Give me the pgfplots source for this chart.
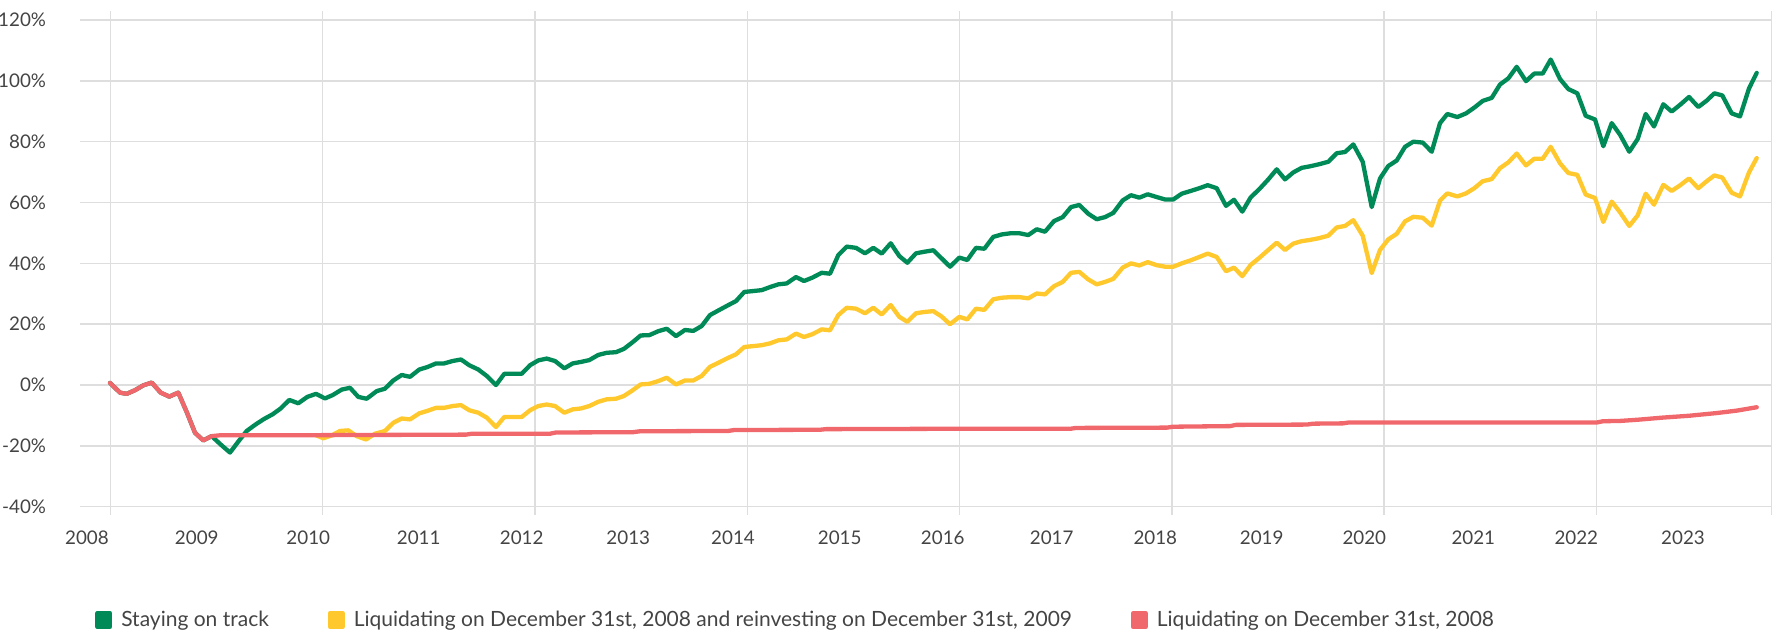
\documentclass[border=0pt]{standalone}
\usepackage{fontspec}
\setmainfont{Lato}
\usepackage{pgfplots}
\pgfplotsset{compat=1.18}
\definecolor{cgreen}{RGB}{0,138,88}
\definecolor{cyellow}{RGB}{255,200,44}
\definecolor{cred}{RGB}{240,104,108}
\definecolor{gridgray}{RGB}{222,222,222}
\definecolor{textgray}{RGB}{68,68,68}
\begin{document}
\begin{tikzpicture}
\begin{axis}[
  name=ax,
  x=0.5pt, y=1.521pt,
  xmin=80, xmax=1771.7, ymin=-40, ymax=120,
  axis line style={draw=none},
  clip=false,
  font=\fontsize{9.4pt}{11pt}\selectfont,
  tick label style={text=textgray},
  ytick={-40,-20,0,20,40,60,80,100,120},
  yticklabels={-40\%,-20\%,0\%,20\%,40\%,60\%,80\%,100\%,120\%},
  yticklabel style={anchor=east, inner sep=0pt, xshift=-12.5pt},
  ymajorgrids,
  grid style={gridgray, line width=0.7pt},
  tick align=outside,
  major tick length=4.3pt,
  ytick style={draw=none},
  xtick={110.3,322.6,534.9,747.2,959.5,1171.8,1384.1,1596.4,1771.7},
  xticklabels={},
  xmajorgrids,
  xtick style={draw=gridgray, line width=0.7pt},
  extra x ticks={87,196.8,308.3,418.7,521.7,628.3,733,839.7,942.8,1051.7,1155.3,1261.7,1364.3,1473.3,1576.3,1683},
  extra x tick labels={2008,2009,2010,2011,2012,2013,2014,2015,2016,2017,2018,2019,2020,2021,2022,2023},
  extra x tick style={grid=none, major tick length=0pt, tick style={draw=none},
    xticklabel style={anchor=base, yshift=-19pt}},
  legend columns=3,
  legend style={at={(axis cs:95,-77.25)}, anchor=west, draw=none, fill=none,
    inner sep=0pt, outer sep=0pt, text=textgray,
    font=\fontsize{10.5pt}{12pt}\selectfont,
    nodes={inner xsep=0pt, inner ysep=2pt},
    /tikz/every odd column/.append style={column sep=4.4pt},
    /tikz/every even column/.append style={column sep=29.3pt}},
  legend cell align=left,
  legend image code/.code={\fill (0pt,-3.3pt) rectangle (6.6pt,3.3pt);},
  every axis plot/.append style={line width=2.15pt, line join=round, line cap=round},
]
\addplot[color=cgreen] coordinates {
(110,0.7)(120,-2.5)(126.7,-2.9)(135,-1.7)(143.3,-0.1)(151.7,0.8)(160.7,-2.5)(169.3,-3.8)(178.3,-2.5)(187,-9.1)(195,-15.7)(203.3,-18.2)(211.7,-16.8)
(220.5,-19.5)(230,-22.2)(238.5,-18.5)(246.7,-15.1)(255,-13.1)(263.3,-11.3)(272.7,-9.6)(280.7,-7.7)(289.3,-4.9)(298.3,-6.0)(307.3,-3.9)(316,-2.9)
(325,-4.4)(332.7,-3.3)(341.7,-1.5)(350,-0.9)(358.3,-3.9)(366.7,-4.5)(376.7,-2.0)(385,-1.2)(393.3,1.5)(401.7,3.3)(410,2.7)(419.3,5.1)(427.3,5.9)
(436,7.1)(444,7.1)(452.7,7.9)(461,8.4)(469.3,6.5)(478.3,5.1)(486.7,3.0)(496,0.0)(504.3,3.7)(513.3,3.7)(521.7,3.7)(530,6.5)(538.3,8.1)(546.7,8.7)
(555,7.9)(564.3,5.5)(572.7,7.1)(581,7.6)(589.3,8.2)(598.3,9.9)(606.7,10.6)(616,10.8)(624,11.9)(632.7,14.1)(640.7,16.3)(649.3,16.4)(658.3,17.7)
(666.7,18.5)(676,16.1)(685,18.1)(693.3,17.8)(701.7,19.4)(710,23.0)(718.3,24.5)(727.3,26.1)(736,27.6)(744.3,30.6)(753.3,30.9)(761.7,31.2)(770,32.2)
(778.3,33.1)(786.7,33.4)(796,35.5)(804,34.2)(812.3,35.3)(821.7,36.9)(830,36.6)(838.3,42.7)(846.7,45.5)(856,45.1)(865,43.3)(873.3,45.1)(881.7,43.2)
(890.7,46.6)(899.3,42.4)(907.3,40.2)(916,43.3)(924,43.8)(933.3,44.3)(941.7,41.6)(950,38.9)(959.3,41.9)(967.3,41.1)(976,45.1)(984.3,44.8)(993.3,48.7)
(1001.7,49.5)(1010.7,49.9)(1019.3,49.9)(1028.3,49.3)(1036.7,51.2)(1045,50.4)(1054,53.9)(1062.7,55.2)(1071,58.5)(1079.3,59.2)(1088.3,56.3)(1096.7,54.5)
(1105,55.2)(1113.3,56.6)(1122.7,60.7)(1131,62.4)(1139.3,61.6)(1147.7,62.7)(1156.7,61.8)(1165,61.0)(1173.3,61.0)(1181.7,62.9)(1190.7,63.8)(1199.3,64.7)
(1207.7,65.7)(1216.7,64.7)(1226,58.9)(1234,60.9)(1242.3,57.0)(1250.7,61.7)(1259.3,64.4)(1268.3,67.6)(1276.7,70.9)(1285,67.6)(1293.3,69.9)(1301.7,71.4)
(1310,71.9)(1319.3,72.6)(1328.3,73.4)(1336.7,76.2)(1345,76.6)(1353.3,79.1)(1362.7,73.4)(1371.7,58.5)(1380,67.9)(1388.3,72.0)(1396.7,73.8)(1405,78.3)
(1413.3,80.0)(1422.7,79.7)(1431.7,76.7)(1440,86.1)(1447.3,89.1)(1457.3,88.1)(1466,89.3)(1474.3,91.2)(1482.7,93.4)(1491.7,94.4)(1500,98.8)(1508.3,100.8)
(1516.7,104.6)(1526,99.9)(1534.3,102.4)(1542.7,102.4)(1550.7,107.0)(1560,100.6)(1568.3,97.3)(1577.3,95.9)(1585.7,88.5)(1595,87.3)(1603.3,78.5)
(1611.7,86.1)(1620,82.3)(1629.3,76.7)(1637.7,80.9)(1645.7,89.1)(1654,85.0)(1663.3,92.3)(1671.7,89.9)(1680.7,92.3)(1689,94.7)(1698.3,91.4)(1706.7,93.5)
(1714.3,95.9)(1722.3,95.2)(1731.7,89.3)(1740,88.3)(1749,97.5)(1756.7,102.6)
};
\addlegendentry{Staying on track}
\addplot[color=cyellow] coordinates {
(316,-16.5)(323.3,-17.5)(332,-16.5)(340,-15.1)(348.3,-14.9)(356.7,-16.8)(366,-17.9)(375,-16.0)(385,-15.1)(393.3,-12.4)(401.7,-11.0)(410,-11.3)
(419.3,-9.3)(427.3,-8.5)(436,-7.5)(444,-7.5)(452.7,-6.9)(461,-6.6)(469.3,-8.3)(478.3,-9.1)(486.7,-10.7)(496,-13.8)(504.3,-10.5)(513.3,-10.5)
(521.7,-10.5)(530,-8.3)(538.3,-6.9)(546.7,-6.4)(555,-6.9)(564.3,-9.1)(572.7,-8.0)(581,-7.7)(589.3,-6.9)(598.3,-5.5)(606.7,-4.7)(616,-4.5)(624,-3.6)
(632.7,-1.7)(640.7,0.2)(649.3,0.4)(658.3,1.3)(666.7,2.4)(676,0.2)(685,1.5)(693.3,1.5)(701.7,3.0)(710,6.0)(718.3,7.3)(727.3,8.8)(736,10.1)(744.3,12.5)
(753.3,12.8)(761.7,13.1)(770,13.7)(778.3,14.7)(786.7,15.0)(796,16.9)(804,15.8)(812.3,16.7)(821.7,18.3)(830,18.0)(838.3,23.0)(846.7,25.4)(856,25.1)
(865,23.6)(873.3,25.4)(881.7,23.2)(890.7,26.3)(899.3,22.4)(907.3,20.8)(916,23.6)(924,24.0)(933.3,24.3)(941.7,22.5)(950,20.0)(959.3,22.4)(967.3,21.6)
(976,25.1)(984.3,24.7)(993.3,28.2)(1001.7,28.7)(1010.7,28.9)(1019.3,28.9)(1028.3,28.5)(1036.7,30.1)(1045,29.8)(1054,32.5)(1062.7,33.9)(1071,36.9)
(1079.3,37.2)(1088.3,34.7)(1096.7,33.1)(1105,33.9)(1113.3,34.9)(1122.7,38.6)(1131,40.0)(1139.3,39.3)(1147.7,40.4)(1156.7,39.4)(1165,38.9)(1173.3,38.9)
(1181.7,40.0)(1190.7,41.0)(1199.3,42.1)(1207.7,43.2)(1216.7,42.1)(1226,37.4)(1234,38.6)(1242.3,35.8)(1250.7,39.5)(1259.3,41.8)(1268.3,44.4)(1276.7,46.8)
(1285,44.4)(1293.3,46.5)(1301.7,47.3)(1310,47.7)(1319.3,48.3)(1328.3,49.1)(1336.7,51.8)(1345,52.3)(1353.3,54.2)(1362.7,49.1)(1371.7,36.8)(1380,44.4)
(1388.3,47.9)(1396.7,49.7)(1405,53.8)(1413.3,55.3)(1422.7,55.0)(1431.7,52.4)(1440,60.6)(1447.3,63.0)(1457.3,62.0)(1466,63.0)(1474.3,64.7)(1482.7,67.0)
(1491.7,67.7)(1500,71.3)(1508.3,73.2)(1516.7,76.1)(1526,72.2)(1534.3,74.4)(1542.7,74.4)(1550.7,78.3)(1560,72.9)(1568.3,69.7)(1577.3,69.1)(1585.7,62.6)
(1595,61.5)(1603.3,53.6)(1611.7,60.3)(1620,56.8)(1629.3,52.3)(1637.7,55.8)(1645.7,62.9)(1654,59.3)(1663.3,65.8)(1671.7,63.8)(1680.7,65.8)(1689,67.9)
(1698.3,64.7)(1706.7,67.0)(1714.3,68.9)(1722.3,68.2)(1731.7,63.2)(1740,62.0)(1749,69.9)(1756.7,74.6)
};
\addlegendentry{Liquidating on December 31st, 2008 and reinvesting on December 31st, 2009}
\addplot[color=cred] coordinates {
(110,0.7)(120,-2.5)(126.7,-2.9)(135,-1.7)(143.3,-0.1)(151.7,0.8)(160.7,-2.5)(169.3,-3.8)(178.3,-2.5)(187,-9.1)(195,-15.7)(203.3,-18.2)(211.7,-16.8)
(220.5,-16.5)(300,-16.5)(380,-16.4)(466,-16.3)(472,-16.0)(550,-16.0)(556,-15.6)(633,-15.5)(640,-15.2)(728,-15.1)(734,-14.8)(820,-14.7)(826,-14.5)
(930,-14.4)(1070,-14.4)(1076,-14.1)(1167,-14.0)(1173,-13.7)(1230,-13.5)(1236,-13.1)(1307,-13.0)(1313,-12.7)(1343,-12.6)(1349,-12.3)(1597,-12.3)
(1603,-11.9)(1620,-11.8)(1638,-11.4)(1663,-10.7)(1689,-10.1)(1717,-9.2)(1737,-8.4)(1756.7,-7.3)
};
\addlegendentry{Liquidating on December 31st, 2008}
\end{axis}
\pgfresetboundingbox
\path[use as bounding box] ([xshift=-40pt,yshift=-62.15pt]ax.south west) rectangle ([xshift=0.65pt,yshift=10pt]ax.north east);
\end{tikzpicture}
\end{document}
